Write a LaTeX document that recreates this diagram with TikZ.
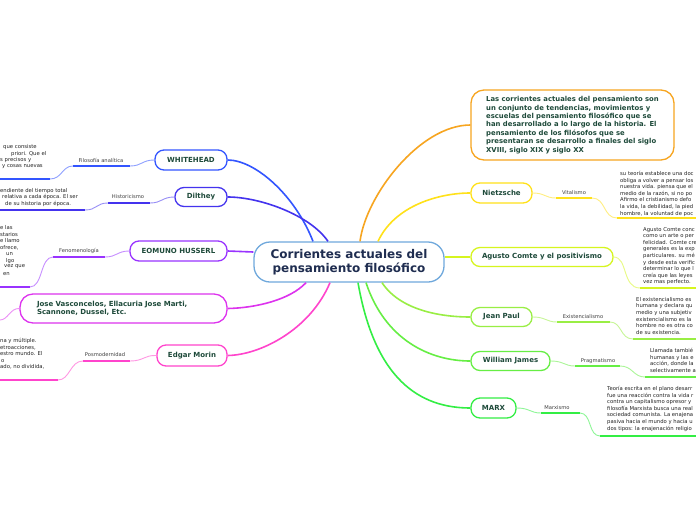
\documentclass[tikz,border=0pt]{standalone}
\usepackage{fontspec}
\setmainfont{DejaVu Sans}
\definecolor{cOr}{HTML}{F7A520}
\definecolor{cYe}{HTML}{FFE11A}
\definecolor{cYg}{HTML}{D6F51F}
\definecolor{cGa}{HTML}{99EE44}
\definecolor{cGb}{HTML}{66EE44}
\definecolor{cGc}{HTML}{33EE44}
\definecolor{cBa}{HTML}{3355FF}
\definecolor{cBb}{HTML}{4433EE}
\definecolor{cPu}{HTML}{9933FF}
\definecolor{cMa}{HTML}{DD33EE}
\definecolor{cPk}{HTML}{FF44CC}
\definecolor{cCen}{HTML}{6FA8DC}
\definecolor{tNode}{HTML}{1E4A3A}
\definecolor{tCen}{HTML}{1F2D50}
\definecolor{tSmall}{HTML}{222222}
\definecolor{tLab}{HTML}{404040}
\begin{document}
\begin{tikzpicture}[x=1pt,y=-1pt,
  mbox/.style={draw=#1,line width=1.3pt,rounded corners=9pt,fill=white,text=tNode,
    font=\bfseries\fontsize{7}{8.5}\selectfont,inner sep=0pt},
  conn/.style={draw=#1,line width=1.6pt},
  fine/.style={draw=#1!55,line width=0.9pt},
  ubar/.style={draw=#1,line width=2.2pt},
  lab/.style={font=\fontsize{5.2}{6}\selectfont,text=tLab,inner sep=0pt},
  txt/.style={font=\fontsize{5.3}{6.6}\selectfont,text=tSmall,inner sep=0pt,align=left,anchor=north west},
  frag/.style={font=\fontsize{5.3}{6}\selectfont,text=tSmall,inner sep=0pt,anchor=west},
]
\useasboundingbox (0,0) rectangle (696,520);
\fill[white] (0,0) rectangle (696,520);

% central node
\node[draw=cCen,line width=1.3pt,rounded corners=16pt,fill=white,text=tCen,
  font=\bfseries\fontsize{12}{14.5}\selectfont,minimum width=190pt,minimum height=40pt,
  inner sep=0pt,align=center] (c) at (349,262) {Corrientes actuales del\\pensamiento filosófico};

% right nodes
\node[mbox=cOr,rounded corners=13pt,minimum width=203pt,minimum height=70pt,align=left,
  font=\bfseries\fontsize{6.85}{8.4}\selectfont] (big) at (572.5,125)
  {Las corrientes actuales del pensamiento son\\un conjunto de tendencias, movimientos y\\escuelas del pensamiento filosófico que se\\han desarrollado a lo largo de la historia. El\\pensamiento de los filósofos que se\\presentaran se desarrollo a finales del siglo\\XVIII, siglo XIX y siglo XX};
\node[mbox=cYe,minimum width=61pt,minimum height=20pt] (niet) at (501.5,193) {Nietzsche};
\node[mbox=cYg,minimum width=142pt,minimum height=19pt] (comte) at (542,257) {Agusto Comte y el positivismo};
\node[mbox=cGa,minimum width=61pt,minimum height=19pt] (jean) at (501.5,317) {Jean Paul};
\node[mbox=cGb,minimum width=79pt,minimum height=19pt] (will) at (510.5,361) {William James};
\node[mbox=cGc,minimum width=45pt,minimum height=20pt] (marx) at (493.5,408) {MARX};

% left nodes
\node[mbox=cBa,minimum width=72pt,minimum height=20pt] (white) at (191,160) {WHITEHEAD};
\node[mbox=cBb,minimum width=52pt,minimum height=19pt] (dil) at (201,197) {Dilthey};
\node[mbox=cPu,minimum width=97pt,minimum height=20pt] (huss) at (178.5,251) {EOMUNO HUSSERL};
\node[mbox=cMa,rounded corners=13pt,text width=173pt,inner xsep=17pt,minimum height=29pt,align=left] (vasc) at (123.5,308.5)
  {Jose Vasconcelos, Ellacuria Jose Marti,\\Scannone, Dussel, Etc.};
\node[mbox=cPk,minimum width=70pt,minimum height=21pt] (morin) at (192,355.5) {Edgar Morin};

% main connectors
\draw[conn=cOr] ([xshift=11pt]c.north) .. controls (366,195) and (420,125) .. (big.west);
\draw[conn=cYe] ([xshift=29pt]c.north) .. controls (395,205) and (440,193) .. (niet.west);
\draw[conn=cYg] ([yshift=5pt]c.east) -- (comte.west);
\draw[conn=cGa] ([xshift=33pt]c.south) .. controls (400,310) and (440,317) .. (jean.west);
\draw[conn=cGb] ([xshift=17pt]c.south) .. controls (385,340) and (430,361) .. (will.west);
\draw[conn=cGc] ([xshift=9pt]c.south) .. controls (375,380) and (420,408) .. (marx.west);
\draw[conn=cBa] ([xshift=-36pt]c.north) .. controls (295,195) and (255,160) .. (white.east);
\draw[conn=cBb] ([xshift=-21pt]c.north) .. controls (310,215) and (260,197) .. (dil.east);
\draw[conn=cPu] ([yshift=10pt]c.west) -- (huss.east);
\draw[conn=cMa] ([xshift=-43pt]c.south) .. controls (290,300) and (255,308) .. (vasc.east);
\draw[conn=cPk] ([xshift=-19pt]c.south) .. controls (310,330) and (260,355) .. (morin.east);

% ---------- right sub-branches ----------
% Nietzsche
\coordinate (n1) at (556,198); \coordinate (n2) at (592,198);
\coordinate (n3) at (617,218); \coordinate (n4) at (696,218);
\draw[fine=cYe] (niet.east) .. controls (545,193) and (545,198) .. (n1);
\draw[ubar=cYe] (n1) -- (n2);
\draw[fine=cYe] (n2) .. controls (606,198) and (603,218) .. (n3);
\draw[ubar=cYe] (n3) -- (n4);
\node[lab] (nl) at (574,193) {Vitalismo};
\node[txt] (nt) at (620,171) {su teoría establece una doc\\obliga a volver a pensar los\\nuestra vida. piensa que el\\medio de la razón, si no po\\Afirmo el cristianismo defo\\la vida, la debilidad, la pied\\hombre, la voluntad de poc};
% Comte
\coordinate (p1) at (640,288); \coordinate (p2) at (696,288);
\draw[fine=cYg] (comte.east) .. controls (628,257) and (622,288) .. (p1);
\draw[ubar=cYg] (p1) -- (p2);
\node[txt] (pt) at (643,227) {Agusto Comte conc\\como un arte o per\\felicidad. Comte cre\\generales es la exp\\particulares. su mé\\y desde esta verific\\determinar lo que l\\creía que las leyes\\vez mas perfecto.};
% Jean Paul
\coordinate (j1) at (557,322); \coordinate (j2) at (610,322);
\coordinate (j3) at (633,339); \coordinate (j4) at (696,339);
\draw[fine=cGa] (jean.east) .. controls (546,317) and (546,322) .. (j1);
\draw[ubar=cGa] (j1) -- (j2);
\draw[fine=cGa] (j2) .. controls (622,322) and (620,339) .. (j3);
\draw[ubar=cGa] (j3) -- (j4);
\node[lab] (jl) at (583,317) {Existencialismo};
\node[txt] (jt) at (636,297) {El existencialismo es\\humana y declara qu\\medio y una subjetiv\\existencialismo es la\\hombre no es otra co\\de su existencia.};
% William James
\coordinate (w1) at (575,366); \coordinate (w2) at (620,366);
\coordinate (w3) at (645,377); \coordinate (w4) at (696,377);
\draw[fine=cGb] (will.east) .. controls (564,361) and (564,366) .. (w1);
\draw[ubar=cGb] (w1) -- (w2);
\draw[fine=cGb] (w2) .. controls (633,366) and (633,377) .. (w3);
\draw[ubar=cGb] (w3) -- (w4);
\node[lab] (wl) at (598,361) {Pragmatismo};
\node[txt] (wt) at (650,348) {Llamada tambié\\humanas y las e\\acción, donde la\\selectivamente a};
% MARX
\coordinate (m1) at (541,413); \coordinate (m2) at (580,413);
\coordinate (m3) at (600,436); \coordinate (m4) at (696,436);
\draw[fine=cGc] (marx.east) .. controls (530,408) and (530,413) .. (m1);
\draw[ubar=cGc] (m1) -- (m2);
\draw[fine=cGc] (m2) .. controls (592,413) and (588,436) .. (m3);
\draw[ubar=cGc] (m3) -- (m4);
\node[lab] (ml) at (557,408) {Marxismo};
\node[txt] (mt) at (607,386) {Teoría escrita en el plano desarr\\fue una reacción contra la vida r\\contra un capitalismo opresor y\\filosofía Marxista busca una real\\sociedad comunista. La enajena\\pasiva hacia el mundo y hacia u\\dos tipos: la enajenación religio};

% ---------- left sub-branches ----------
% WHITEHEAD
\coordinate (a1) at (130,166); \coordinate (a2) at (73,166);
\coordinate (a3) at (50,179); \coordinate (a4) at (0,179);
\draw[fine=cBa] (white.west) .. controls (142,160) and (142,166) .. (a1);
\draw[ubar=cBa] (a1) -- (a2);
\draw[fine=cBa] (a2) .. controls (62,166) and (62,179) .. (a3);
\draw[ubar=cBa] (a3) -- (a4);
\node[lab] (al) at (101,160) {Filosofía analítica};
\node[frag] (at1) at (3,147) {que consiste};
\node[frag] (at2) at (11,154) {priori. Que el};
\node[frag] (at3) at (0,160) {s precisos y};
\node[frag] (at4) at (2,167) {y cosas nuevas};
% Dilthey
\coordinate (b1) at (150,203); \coordinate (b2) at (108,203);
\coordinate (b3) at (85,210); \coordinate (b4) at (0,210);
\draw[fine=cBb] (dil.west) .. controls (162,197) and (162,203) .. (b1);
\draw[ubar=cBb] (b1) -- (b2);
\draw[fine=cBb] (b2) .. controls (96,203) and (97,210) .. (b3);
\draw[ubar=cBb] (b3) -- (b4);
\node[lab] (bl) at (128,197) {Historicismo};
\node[frag] (bt1) at (0,191) {endiente del tiempo total};
\node[frag] (bt2) at (2,197) {relativa a cada época. El ser};
\node[frag] (bt3) at (5,204) {de su historia por época.};
% Husserl
\coordinate (h1) at (105,257); \coordinate (h2) at (53,257);
\coordinate (h3) at (30,287); \coordinate (h4) at (0,287);
\draw[fine=cPu] (huss.west) .. controls (117,251) and (117,257) .. (h1);
\draw[ubar=cPu] (h1) -- (h2);
\draw[fine=cPu] (h2) .. controls (40,257) and (43,287) .. (h3);
\draw[ubar=cPu] (h3) -- (h4);
\node[lab] (hl) at (79,251) {Fenomenología};
\node[frag] (ht1) at (0,228) {e las};
\node[frag] (ht2) at (0,235) {starios};
\node[frag] (ht3) at (0,241) {e llamo};
\node[frag] (ht4) at (0,248) {ofrece,};
\node[frag] (ht5) at (6,254) {un};
\node[frag] (ht6) at (6,261) {lgo};
\node[frag] (ht7) at (4,267) {vez que};
\node[frag] (ht8) at (3,274) {en};
% Vasconcelos free end
\coordinate (v1) at (0,320);
\draw[fine=cMa] (vasc.west) .. controls (10,308) and (8,320) .. (v1);
% Morin
\coordinate (e1) at (130,361); \coordinate (e2) at (83,361);
\coordinate (e3) at (58,380); \coordinate (e4) at (0,380);
\draw[fine=cPk] (morin.west) .. controls (144,355) and (144,361) .. (e1);
\draw[ubar=cPk] (e1) -- (e2);
\draw[fine=cPk] (e2) .. controls (70,361) and (70,380) .. (e3);
\draw[ubar=cPk] (e3) -- (e4);
\node[lab] (el) at (105,355) {Posmodernidad};
\node[frag] (et1) at (0,341) {na y múltiple.};
\node[frag] (et2) at (0,348) {etroacciones,};
\node[frag] (et3) at (0,354) {estro mundo. El};
\node[frag] (et4) at (1,361) {o};
\node[frag] (et5) at (0,367) {ado, no dividida,};
\end{tikzpicture}
\end{document}
